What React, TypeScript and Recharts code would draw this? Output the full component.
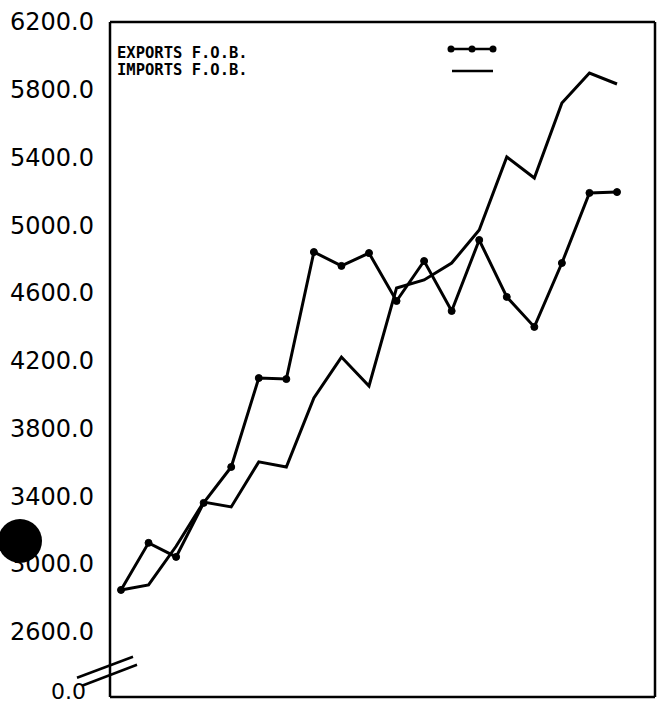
import React from 'react';
import { LineChart, Line, XAxis, YAxis, ReferenceLine, Legend } from 'recharts';

// periods along the bottom axis (unlabelled in the original plot)
const periods = ['1', '2', '3', '4', '5', '6', '7', '8', '9', '10', '11', '12', '13', '14', '15', '16', '17', '18', '19'];

const exportsFob = [2847, 3125, 3042, 3361, 3573, 4098, 4092, 4842, 4760, 4836, 4553, 4789, 4494, 4913, 4577, 4400, 4777, 5191, 5196];
const importsFob = [2847, 2877, 3105, 3366, 3337, 3603, 3573, 3980, 4222, 4051, 4630, 4677, 4777, 4972, 5403, 5279, 5722, 5899, 5834];

// bottom of the broken axis, printed as 0.0
const axisFloor = 2215;
const axisBreak = 2370;
const yTicks = [axisFloor, 2600, 3000, 3400, 3800, 4200, 4600, 5000, 5400, 5800, 6200];

const data = periods.map((p, i) => ({ period: p, exports: exportsFob[i], imports: importsFob[i] }));

const fmt = (v: number) => (v === axisFloor ? '0.0' : v.toFixed(1));

const YTick = (props: any) => {
    const { x, y, payload } = props;
    const isFloor = payload.value === axisFloor;
    return (
        <text
            x={isFloor ? x - 8 : x}
            y={isFloor ? y - 6 : y}
            dy="0.35em"
            textAnchor="end"
            fill="#000"
            fontSize={isFloor ? 22 : 24}
            fontFamily='"DejaVu Sans", sans-serif'
        >
            {fmt(payload.value)}
        </text>
    );
};

const BreakMark = (props: any) => {
    const { x1, y1 } = props;
    return (
        <g>
            <rect x={x1 - 4} y={y1 - 6} width={8} height={12} fill="#fff" />
            <line x1={x1 - 33} y1={y1 + 7} x2={x1 + 23} y2={y1 - 14} stroke="#000" strokeWidth={2.5} />
            <line x1={x1 - 28} y1={y1 + 15} x2={x1 + 27} y2={y1 - 6} stroke="#000" strokeWidth={2.5} />
        </g>
    );
};

const legendFont = { fontFamily: '"DejaVu Sans Mono", monospace', fontSize: 15.5, fontWeight: 700 };

const LegendBox = () => (
    <svg width={658} height={90} style={{ display: 'block' }}>
        <text x={117} y={58} style={legendFont}>EXPORTS F.O.B.</text>
        <text x={117} y={75} style={legendFont}>IMPORTS F.O.B.</text>
        <line x1={451} y1={49} x2={493} y2={49} stroke="#000" strokeWidth={2.5} />
        {[451, 472, 493].map((cx) => (
            <circle key={cx} cx={cx} cy={49} r={3.5} fill="#000" />
        ))}
        <line x1={452} y1={71} x2={493} y2={71} stroke="#000" strokeWidth={2.5} />
    </svg>
);

export default function App() {
    return (
        <div style={{ position: 'absolute', left: 0, top: 0, width: 658, height: 707, background: '#fff' }}>
            <LineChart
                width={658}
                height={707}
                data={data}
                margin={{ top: 21, right: 2, bottom: 9, left: 0 }}
            >
                <XAxis
                    dataKey="period"
                    tick={false}
                    tickLine={false}
                    height={1}
                    padding={{ left: 11, right: 38 }}
                    axisLine={{ stroke: '#000', strokeWidth: 2.5 }}
                />
                <XAxis
                    xAxisId="top"
                    orientation="top"
                    dataKey="period"
                    tick={false}
                    tickLine={false}
                    height={1}
                    axisLine={{ stroke: '#000', strokeWidth: 2.5 }}
                />
                <YAxis
                    domain={[axisFloor, 6200]}
                    ticks={yTicks}
                    width={110}
                    tickSize={0}
                    tickMargin={16}
                    interval={0}
                    axisLine={{ stroke: '#000', strokeWidth: 2.5 }}
                    tick={YTick}
                />
                <YAxis
                    yAxisId="right"
                    orientation="right"
                    tick={false}
                    tickLine={false}
                    width={1}
                    axisLine={{ stroke: '#000', strokeWidth: 2.5 }}
                />
                <ReferenceLine y={axisBreak} stroke="none" shape={BreakMark} />
                <Legend
                    verticalAlign="middle"
                    layout="horizontal"
                    content={LegendBox}
                    wrapperStyle={{ position: 'absolute', top: 0, left: 0, width: 658, height: 90 }}
                />
                <Line
                    type="linear"
                    dataKey="exports"
                    name="EXPORTS F.O.B."
                    stroke="#000"
                    strokeWidth={3}
                    dot={{ r: 3.5, fill: '#000', stroke: '#000', strokeWidth: 1 }}
                    isAnimationActive={false}
                />
                <Line
                    type="linear"
                    dataKey="imports"
                    name="IMPORTS F.O.B."
                    stroke="#000"
                    strokeWidth={3}
                    dot={false}
                    isAnimationActive={false}
                />
            </LineChart>
            {/* punched hole in the scanned page */}
            <div style={{ position: 'absolute', left: -2, top: 519, width: 44, height: 44, borderRadius: '50%', background: '#000' }} />
        </div>
    );
}
